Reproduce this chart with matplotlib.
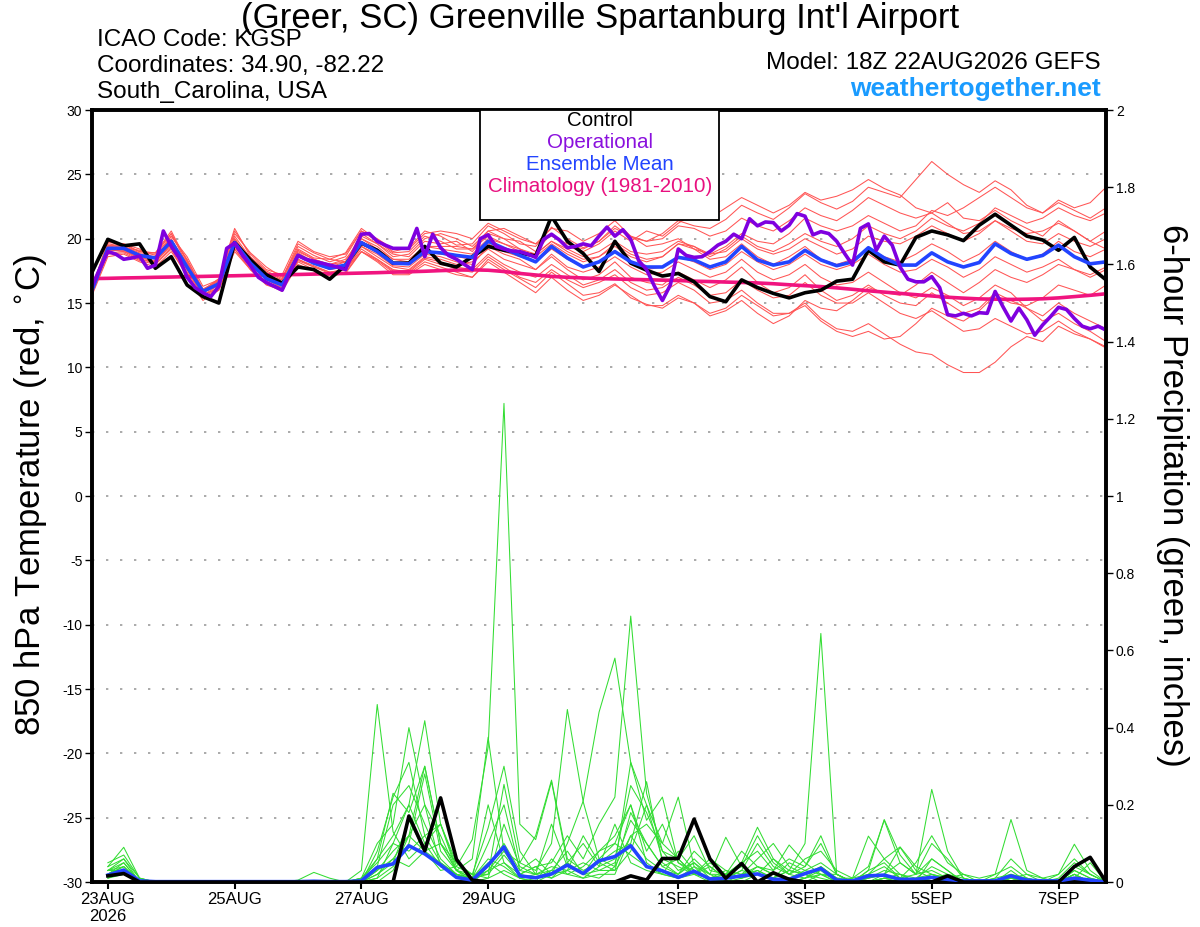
import numpy as np
import pandas as pd
import matplotlib
matplotlib.use('Agg')
import matplotlib.pyplot as plt
from matplotlib.patches import Rectangle

plt.rcParams['font.family'] = ['Liberation Sans', 'DejaVu Sans']

# ---------------- data ----------------
run_start = '2026-08-22 18:00'
times6 = pd.date_range(run_start, periods=65, freq='6h').to_numpy()
times3 = pd.date_range(run_start, periods=129, freq='3h').to_numpy()
ptimes = times6[1:]

tick_dates = pd.to_datetime(['2026-08-23', '2026-08-25', '2026-08-27', '2026-08-29',
                             '2026-09-01', '2026-09-03', '2026-09-05', '2026-09-07']).to_numpy()
tick_labels = ['23AUG\n2026', '25AUG', '27AUG', '29AUG', '1SEP', '3SEP', '5SEP', '7SEP']

control_t = [17.4, 19.95, 19.45, 19.6, 17.7, 18.6, 16.4, 15.5, 15.0, 19.7,
             18.35, 17.2, 16.55, 17.8, 17.6, 16.85, 17.95, 19.65, 19.1, 18.1,
             18.1, 19.4, 18.1, 17.8, 18.6, 19.4, 19.1, 18.9, 18.65, 21.75,
             19.8, 18.85, 17.45, 19.8, 18.1, 17.55, 17.1, 17.3, 16.65, 15.5,
             15.1, 16.8, 16.2, 15.75, 15.4, 15.8, 16.0, 16.7, 16.85, 19.1,
             18.2, 17.95, 20.1, 20.6, 20.3, 19.85, 21.05, 21.9, 21.05, 20.2,
             19.9, 19.1, 20.1, 17.8, 16.8]

mean_t = [16.0, 19.25, 19.25, 18.7, 18.5, 19.8, 17.8, 15.9, 16.5, 19.7,
          18.1, 16.9, 16.4, 18.7, 18.1, 17.7, 17.95, 19.7, 19.0, 18.1,
          18.05, 19.0, 18.9, 18.7, 18.55, 19.8, 19.25, 18.7, 18.2, 19.4,
          18.5, 17.8, 18.2, 19.0, 18.2, 17.8, 17.8, 18.55, 18.35, 17.8,
          18.2, 19.4, 18.35, 17.95, 18.2, 19.1, 18.35, 17.9, 18.2, 19.3,
          18.5, 17.95, 17.95, 18.9, 18.2, 17.8, 18.15, 19.6, 18.85, 18.4,
          18.7, 19.5, 18.6, 18.05, 18.2]

oper_t = [16.3, 17.7, 19.0, 18.8, 18.4, 18.5, 18.65, 17.7, 17.95, 20.6,
          19.4, 18.5, 17.0, 16.2, 15.8, 15.5, 16.3, 19.25, 19.65, 18.7,
          17.9, 17.0, 16.6, 16.3, 16.0, 17.4, 18.7, 18.4, 18.25, 18.1,
          17.95, 17.8, 17.6, 19.0, 20.35, 20.4, 19.8, 19.5, 19.25, 19.25,
          19.25, 20.8, 18.6, 20.35, 19.3, 18.7, 18.4, 18.0, 17.6, 20.0,
          20.3, 19.4, 19.2, 19.05, 19.0, 18.8, 18.55, 19.95, 20.35, 19.9,
          19.3, 19.4, 19.6, 19.45, 20.2, 20.9, 20.2, 20.7, 19.95, 18.3,
          17.6, 16.3, 15.2, 16.4, 19.2, 18.7, 18.55, 18.6, 19.0, 19.5,
          19.8, 20.35, 20.0, 21.55, 21.0, 21.3, 21.25, 20.6, 21.05, 21.95,
          21.75, 20.3, 20.55, 20.4, 19.8, 18.85, 17.95, 20.8, 21.15, 19.1,
          20.2, 19.5, 17.8, 16.85, 16.65, 16.65, 17.05, 16.2, 14.1, 14.0,
          14.2, 14.0, 14.25, 14.2, 15.9, 14.7, 13.6, 14.6, 13.7, 12.5,
          13.3, 13.95, 14.67, 14.5, 13.8, 13.2, 13.0, 13.2, 12.9]

clim_t = [16.9, 16.92, 16.95, 16.97, 17.0, 17.02, 17.05, 17.07, 17.1, 17.12,
          17.15, 17.18, 17.2, 17.22, 17.25, 17.28, 17.3, 17.33, 17.36, 17.4,
          17.43, 17.47, 17.52, 17.56, 17.58, 17.55, 17.45, 17.3, 17.18, 17.07,
          17.0, 16.95, 16.9, 16.87, 16.84, 16.81, 16.78, 16.75, 16.7, 16.67,
          16.63, 16.6, 16.56, 16.5, 16.42, 16.35, 16.28, 16.18, 16.07, 15.95,
          15.85, 15.75, 15.65, 15.55, 15.45, 15.38, 15.32, 15.3, 15.28, 15.3,
          15.33, 15.4, 15.5, 15.6, 15.72]

member_t_01 = [16.2, 19.8, 19.5, 19.0, 18.9, 20.6, 18.2, 16.0, 16.8, 20.8,
               18.6, 17.5, 16.9, 19.6, 18.9, 18.4, 18.9, 20.8, 19.9, 19.0,
               19.3, 20.6, 20.2, 19.5, 19.6, 21.0, 20.4, 19.6, 19.4, 20.9,
               20.0, 19.3, 19.8, 21.0, 20.1, 19.8, 20.4, 21.4, 21.0, 20.8,
               21.5, 22.6, 22.0, 21.5, 22.4, 23.5, 22.8, 22.3, 22.9, 24.0,
               23.6, 23.2, 24.6, 26.0, 25.0, 24.2, 23.6, 24.5, 23.8, 22.6,
               22.0, 23.0, 22.4, 22.8, 24.0]
member_t_02 = [15.6, 18.6, 18.8, 18.2, 17.8, 19.0, 17.2, 15.4, 16.0, 19.2,
               17.6, 16.5, 15.9, 18.0, 17.5, 17.1, 17.3, 19.0, 18.3, 17.4,
               17.3, 18.2, 17.8, 17.4, 17.0, 18.4, 17.6, 16.9, 16.2, 17.4,
               16.5, 15.6, 15.8, 16.5, 15.4, 14.9, 14.6, 15.4, 15.0, 14.2,
               14.6, 15.6, 14.8, 14.0, 14.2, 15.0, 13.8, 13.0, 12.8, 13.4,
               12.6, 11.8, 11.2, 11.0, 10.2, 9.6, 9.6, 10.4, 11.6, 12.4,
               12.0, 13.2, 12.6, 12.2, 11.6]
member_t_03 = [16.4, 19.4, 19.6, 19.2, 18.4, 20.2, 18.6, 16.3, 16.8, 20.4,
               18.9, 17.8, 17.0, 19.2, 18.5, 18.4, 18.2, 20.2, 19.6, 18.8,
               18.6, 19.8, 19.6, 19.8, 19.0, 20.4, 20.0, 19.8, 19.0, 20.4,
               19.4, 19.0, 19.6, 20.6, 19.8, 20.6, 20.2, 21.2, 22.0, 21.6,
               22.4, 23.2, 22.6, 22.0, 22.6, 23.6, 23.0, 23.3, 23.8, 24.6,
               23.9, 23.4, 22.4, 22.0, 22.8, 21.6, 21.4, 22.2, 21.4, 20.8,
               20.2, 21.4, 20.6, 19.8, 20.6]
member_t_04 = [15.8, 19.0, 19.2, 18.4, 18.2, 19.6, 17.6, 15.6, 16.2, 19.4,
               17.8, 16.6, 16.2, 18.4, 17.8, 17.4, 17.6, 19.4, 18.6, 17.8,
               17.6, 18.6, 18.4, 18.0, 18.2, 19.2, 18.4, 18.0, 17.6, 18.6,
               17.6, 16.8, 17.2, 18.2, 17.0, 16.6, 16.4, 17.4, 16.8, 16.2,
               16.8, 17.8, 16.6, 15.8, 16.2, 17.2, 16.0, 15.2, 15.6, 16.4,
               15.6, 15.0, 14.8, 15.8, 15.0, 14.2, 14.6, 15.8, 15.2, 14.6,
               14.0, 15.0, 14.2, 13.6, 13.0]
member_t_05 = [16.1, 19.6, 19.4, 18.9, 18.8, 20.4, 18.0, 15.8, 16.6, 20.0,
               18.3, 17.2, 16.6, 19.0, 18.4, 18.0, 18.4, 20.0, 19.4, 18.4,
               18.4, 19.4, 19.2, 19.0, 18.8, 20.0, 19.6, 19.0, 18.8, 19.8,
               19.2, 18.6, 19.0, 19.8, 19.0, 18.8, 19.0, 19.8, 19.4, 18.6,
               19.2, 20.2, 19.4, 19.0, 19.6, 20.4, 19.8, 19.4, 20.0, 21.0,
               20.4, 20.0, 20.6, 21.6, 21.0, 20.6, 21.2, 22.4, 21.8, 21.2,
               21.6, 22.4, 21.8, 21.4, 22.0]
member_t_06 = [15.9, 19.2, 19.0, 18.6, 18.2, 19.6, 17.4, 15.6, 16.4, 19.6,
               18.0, 16.8, 16.2, 18.6, 18.2, 17.6, 17.8, 19.4, 18.8, 17.9,
               17.8, 18.8, 18.6, 18.2, 18.0, 19.4, 18.8, 18.4, 17.6, 18.8,
               17.8, 17.4, 17.8, 18.6, 17.8, 17.2, 17.4, 18.2, 17.6, 17.0,
               17.4, 18.4, 17.4, 16.8, 17.2, 18.0, 17.0, 16.4, 16.6, 17.4,
               16.6, 15.8, 15.4, 16.2, 15.6, 14.8, 15.4, 16.4, 15.8, 14.6,
               13.6, 14.2, 13.4, 12.8, 12.0]
member_t_07 = [16.0, 19.4, 19.2, 18.8, 18.6, 20.0, 17.8, 15.8, 16.4, 19.8,
               18.2, 17.0, 16.5, 18.9, 18.2, 17.8, 18.2, 20.4, 19.6, 18.6,
               18.8, 20.0, 20.4, 20.0, 19.4, 20.6, 20.8, 20.2, 19.6, 20.8,
               20.6, 19.8, 20.4, 21.4, 20.2, 19.4, 19.6, 20.0, 19.2, 18.4,
               18.6, 19.6, 18.6, 18.0, 18.6, 19.4, 18.4, 18.0, 18.4, 19.2,
               18.6, 18.2, 18.8, 19.6, 19.0, 18.2, 18.8, 19.8, 19.0, 18.4,
               18.8, 19.8, 19.0, 18.6, 19.2]
member_t_08 = [15.7, 18.8, 18.9, 18.3, 18.0, 19.2, 17.0, 15.2, 16.0, 19.0,
               17.6, 16.4, 16.0, 18.2, 17.6, 17.2, 17.4, 19.0, 18.2, 17.2,
               17.2, 18.0, 17.6, 17.2, 17.0, 18.2, 17.4, 16.6, 15.8, 17.0,
               16.0, 15.2, 15.6, 16.4, 15.6, 14.8, 14.8, 15.6, 15.0, 14.0,
               14.4, 15.2, 14.2, 13.4, 14.0, 15.2, 14.6, 14.4, 15.2, 16.2,
               15.8, 15.6, 16.4, 17.4, 16.6, 15.8, 16.6, 17.6, 17.0, 16.6,
               17.2, 18.0, 17.6, 17.0, 17.6]
member_t_09 = [16.3, 19.5, 19.3, 19.1, 18.7, 20.2, 18.4, 16.1, 16.7, 20.2,
               18.5, 17.4, 16.8, 19.4, 18.7, 18.2, 18.6, 20.6, 19.8, 18.9,
               19.0, 20.2, 19.8, 19.2, 19.2, 20.6, 20.0, 19.2, 18.6, 19.6,
               18.8, 18.2, 18.6, 19.4, 18.6, 18.2, 18.6, 19.6, 19.2, 18.8,
               19.4, 20.4, 19.8, 19.6, 20.4, 21.6, 21.0, 20.6, 21.0, 21.8,
               21.2, 20.6, 21.0, 22.2, 21.8, 22.4, 23.2, 24.0, 23.2, 22.4,
               22.0, 22.8, 22.2, 21.6, 22.4]
member_t_10 = [15.8, 19.1, 19.1, 18.5, 18.3, 19.4, 17.6, 15.6, 16.2, 19.4,
               17.8, 16.6, 16.0, 18.4, 17.9, 17.4, 17.6, 19.2, 18.4, 17.6,
               17.4, 18.4, 18.0, 17.8, 17.6, 18.8, 18.0, 17.4, 17.0, 18.0,
               17.2, 16.4, 16.8, 17.6, 16.6, 16.0, 16.2, 17.0, 16.4, 15.6,
               15.8, 16.8, 16.0, 15.4, 15.6, 16.6, 15.6, 15.0, 15.0, 15.8,
               15.0, 14.2, 13.8, 14.4, 13.6, 12.8, 13.0, 13.8, 13.2, 12.6,
               12.8, 13.6, 12.8, 12.2, 11.5]
member_t_11 = [16.1, 19.3, 19.4, 18.8, 18.5, 19.9, 17.9, 15.9, 16.5, 19.6,
               18.0, 16.9, 16.4, 18.8, 18.2, 17.6, 18.0, 19.8, 19.0, 18.0,
               18.0, 19.0, 18.8, 18.6, 18.4, 19.6, 19.0, 18.6, 18.2, 19.2,
               18.4, 17.8, 18.2, 19.0, 18.2, 17.6, 17.8, 18.6, 18.2, 17.6,
               18.0, 19.0, 18.2, 17.6, 18.0, 18.8, 18.0, 17.6, 18.0, 18.8,
               18.0, 17.4, 17.6, 18.4, 17.8, 17.0, 17.6, 18.6, 18.0, 17.4,
               17.8, 18.4, 17.6, 17.2, 17.8]
member_t_12 = [16.2, 19.7, 19.6, 19.0, 18.9, 20.4, 18.3, 16.0, 16.9, 20.6,
               18.8, 17.6, 17.2, 19.8, 19.0, 18.6, 18.8, 20.6, 20.0, 19.2,
               19.2, 20.4, 20.6, 20.4, 20.0, 21.2, 20.6, 20.0, 19.6, 20.2,
               19.6, 19.2, 19.8, 20.8, 20.2, 19.8, 20.0, 21.0, 20.8, 20.2,
               20.6, 21.6, 21.0, 20.6, 21.4, 22.4, 21.8, 21.4, 22.2, 23.2,
               22.6, 22.0, 21.6, 22.0, 21.2, 20.4, 20.6, 21.4, 20.6, 19.8,
               19.6, 20.4, 19.8, 19.4, 20.0]
member_t_13 = [15.9, 18.9, 19.0, 18.4, 18.1, 19.3, 17.3, 15.4, 16.2, 19.2,
               17.6, 16.5, 16.1, 18.3, 17.8, 17.3, 17.6, 19.0, 18.4, 17.5,
               17.5, 18.5, 18.2, 17.6, 17.4, 18.6, 17.8, 17.0, 16.6, 17.6,
               16.8, 16.2, 16.6, 17.2, 16.2, 15.6, 15.8, 16.6, 16.0, 15.0,
               15.2, 16.0, 15.0, 14.2, 14.2, 14.8, 13.6, 12.8, 12.4, 12.8,
               12.2, 12.4, 13.4, 14.6, 14.0, 13.6, 14.4, 15.6, 15.0, 14.8,
               15.4, 16.4, 16.0, 15.6, 16.4]
member_t_14 = [16.0, 19.5, 19.1, 18.7, 18.6, 19.9, 18.1, 16.0, 16.7, 20.0,
               18.4, 17.1, 16.8, 19.1, 18.4, 18.0, 18.2, 20.0, 19.2, 18.4,
               18.2, 19.4, 19.4, 19.4, 19.2, 20.2, 19.6, 19.2, 18.8, 19.8,
               19.0, 18.4, 18.6, 19.6, 18.8, 18.4, 18.6, 19.6, 19.4, 18.8,
               19.0, 20.0, 19.2, 18.8, 19.2, 20.0, 19.4, 18.8, 19.2, 20.2,
               19.8, 19.6, 20.2, 21.0, 20.4, 19.8, 20.4, 21.4, 20.8, 20.4,
               20.6, 21.2, 20.6, 19.8, 19.2]
members_t = [member_t_01, member_t_02, member_t_03, member_t_04, member_t_05,
             member_t_06, member_t_07, member_t_08, member_t_09, member_t_10,
             member_t_11, member_t_12, member_t_13, member_t_14]

# 6-hour precipitation (inches), valid 00Z 23AUG ... 18Z 7SEP
control_p = [0.016, 0.022, 0, 0, 0, 0, 0, 0,
             0, 0, 0, 0, 0, 0, 0, 0,
             0, 0, 0, 0.171, 0.081, 0.218, 0.059, 0.005,
             0, 0, 0, 0, 0, 0, 0, 0,
             0, 0.016, 0.005, 0.061, 0.061, 0.163, 0.060, 0.01,
             0.048, 0, 0.024, 0.007, 0, 0, 0, 0,
             0, 0, 0, 0, 0, 0.016, 0, 0,
             0, 0, 0, 0, 0, 0.04, 0.064, 0]
mean_p = [0.018, 0.031, 0.003, 0.001, 0.001, 0.001, 0.001, 0.001,
          0.001, 0.001, 0.001, 0.001, 0.001, 0.002, 0.001, 0.001,
          0.003, 0.038, 0.047, 0.094, 0.073, 0.044, 0.012, 0.005,
          0.044, 0.091, 0.016, 0.011, 0.021, 0.044, 0.022, 0.055,
          0.066, 0.094, 0.04, 0.029, 0.012, 0.028, 0.008, 0.01,
          0.016, 0.021, 0.007, 0.007, 0.022, 0.035, 0.005, 0.003,
          0.016, 0.018, 0.007, 0.007, 0.012, 0.007, 0.003, 0.003,
          0.003, 0.016, 0.005, 0.003, 0.003, 0.01, 0.005, 0.0]

member_p_01 = [0.02, 0.04, 0, 0, 0, 0, 0, 0,
               0, 0, 0, 0, 0, 0, 0, 0,
               0, 0.02, 0.06, 0.12, 0.08, 0.03, 0.04, 0.11,
               0.35, 1.24, 0.15, 0.11, 0.26, 0.05, 0.02, 0.06,
               0.1, 0.2, 0.05, 0.02, 0.01, 0.04, 0, 0,
               0, 0.02, 0.01, 0, 0.01, 0.03, 0, 0,
               0, 0.01, 0, 0, 0.02, 0, 0, 0,
               0, 0, 0.01, 0, 0, 0.02, 0, 0]
member_p_02 = [0.03, 0.05, 0, 0, 0, 0, 0, 0,
               0, 0, 0, 0, 0, 0, 0, 0,
               0.03, 0.46, 0.13, 0.06, 0.1, 0.04, 0.02, 0.01,
               0.05, 0.02, 0, 0.01, 0.03, 0.08, 0.02, 0.01,
               0.04, 0.12, 0.06, 0.03, 0.02, 0.06, 0.02, 0,
               0.01, 0.04, 0.02, 0.01, 0, 0.02, 0, 0,
               0, 0.01, 0, 0, 0.01, 0, 0, 0,
               0, 0, 0, 0, 0, 0.01, 0, 0]
member_p_03 = [0.01, 0.03, 0, 0, 0, 0, 0, 0,
               0, 0, 0, 0, 0, 0, 0, 0,
               0.01, 0.1, 0.15, 0.40, 0.2, 0.12, 0.03, 0.01,
               0.02, 0.07, 0.02, 0.04, 0.01, 0.03, 0.12, 0.05,
               0.03, 0.18, 0.1, 0.04, 0.06, 0.02, 0.05, 0.02,
               0.04, 0.12, 0.05, 0.02, 0.01, 0.04, 0.01, 0,
               0.02, 0.06, 0.02, 0, 0.01, 0, 0, 0,
               0, 0.01, 0, 0, 0, 0.02, 0, 0]
member_p_04 = [0.04, 0.06, 0.01, 0, 0, 0, 0, 0,
               0, 0, 0, 0, 0, 0, 0, 0,
               0, 0.06, 0.12, 0.2, 0.418, 0.15, 0.04, 0.02,
               0.14, 0.3, 0.08, 0.02, 0.01, 0.05, 0.1, 0.04,
               0.06, 0.25, 0.18, 0.08, 0.03, 0.05, 0.01, 0.02,
               0.05, 0.08, 0.03, 0.06, 0.04, 0.12, 0.02, 0,
               0.03, 0.05, 0.01, 0.02, 0.06, 0.03, 0, 0,
               0.01, 0.02, 0, 0, 0, 0.03, 0.01, 0]
member_p_05 = [0.02, 0.02, 0, 0, 0, 0, 0, 0,
               0, 0, 0, 0, 0, 0, 0, 0,
               0, 0.08, 0.22, 0.31, 0.12, 0.15, 0.05, 0.01,
               0.2, 0.05, 0.01, 0, 0.06, 0.02, 0.04, 0.08,
               0.1, 0.07, 0.04, 0.02, 0.08, 0.03, 0.01, 0,
               0.02, 0.06, 0.1, 0.04, 0.02, 0, 0, 0.01,
               0.04, 0.16, 0.05, 0.02, 0.03, 0.01, 0, 0,
               0, 0.01, 0, 0, 0, 0.02, 0, 0]
member_p_06 = [0.03, 0.04, 0, 0, 0, 0, 0, 0,
               0, 0, 0, 0, 0, 0, 0, 0,
               0, 0.01, 0.04, 0.1, 0.28, 0.08, 0.03, 0,
               0.04, 0.1, 0.03, 0.06, 0.02, 0.1, 0.21, 0.44,
               0.58, 0.31, 0.2, 0.1, 0.06, 0.02, 0.04, 0.01,
               0.03, 0.1, 0.04, 0.02, 0.06, 0.08, 0.03, 0.01,
               0.02, 0.04, 0.01, 0.05, 0.12, 0.05, 0.02, 0,
               0.01, 0.06, 0.02, 0, 0, 0.04, 0.02, 0]
member_p_07 = [0.01, 0.02, 0, 0, 0, 0, 0, 0,
               0, 0, 0, 0, 0, 0, 0, 0,
               0, 0.04, 0.2, 0.25, 0.15, 0.06, 0.02, 0.01,
               0.03, 0.05, 0.02, 0.04, 0.05, 0.12, 0.06, 0.15,
               0.22, 0.689, 0.23, 0.08, 0.06, 0.12, 0.03, 0.02,
               0.01, 0.03, 0.01, 0.05, 0.03, 0.02, 0.02, 0,
               0, 0.02, 0.09, 0.03, 0.01, 0, 0, 0,
               0, 0.02, 0, 0, 0, 0, 0, 0]
member_p_08 = [0.02, 0.05, 0, 0, 0, 0, 0, 0,
               0, 0, 0, 0, 0, 0, 0, 0,
               0, 0.02, 0.05, 0.16, 0.08, 0.1, 0.03, 0.06,
               0.375, 0.08, 0.05, 0.12, 0.264, 0.06, 0.03, 0.05,
               0.08, 0.1, 0.26, 0.05, 0.02, 0.08, 0.04, 0.01,
               0.03, 0.02, 0.01, 0.03, 0.02, 0.01, 0, 0,
               0.01, 0.03, 0.02, 0.01, 0.04, 0.02, 0.01, 0,
               0, 0.01, 0.02, 0.01, 0, 0.03, 0.01, 0]
member_p_09 = [0.03, 0.03, 0, 0, 0, 0, 0, 0,
               0, 0, 0, 0, 0, 0, 0, 0,
               0, 0.03, 0.08, 0.12, 0.3, 0.1, 0.05, 0.02,
               0.02, 0.253, 0.05, 0.03, 0.1, 0.447, 0.208, 0.06,
               0.04, 0.31, 0.16, 0.22, 0.05, 0.03, 0.01, 0.02,
               0.05, 0.142, 0.06, 0.02, 0.04, 0.1, 0.02, 0,
               0.03, 0.162, 0.07, 0.02, 0.24, 0.08, 0.01, 0,
               0.02, 0.04, 0.01, 0, 0.01, 0.05, 0.02, 0]
member_p_10 = [0.04, 0.09, 0.01, 0, 0, 0, 0, 0,
               0, 0, 0, 0, 0, 0, 0, 0,
               0, 0, 0.03, 0.12, 0.2, 0.04, 0.02, 0,
               0.03, 0.08, 0.02, 0.01, 0.02, 0.05, 0.02, 0.03,
               0.05, 0.16, 0.1, 0.04, 0.02, 0.05, 0.02, 0.116,
               0.04, 0.02, 0.01, 0.03, 0.1, 0.644, 0.02, 0,
               0, 0.01, 0.02, 0, 0.01, 0.02, 0, 0,
               0, 0.01, 0, 0, 0, 0.01, 0, 0]
member_p_11 = [0.02, 0.04, 0, 0, 0, 0, 0, 0,
               0, 0, 0, 0, 0, 0, 0, 0,
               0, 0.01, 0.1, 0.2, 0.1, 0.15, 0.03, 0.01,
               0.1, 0.2, 0.03, 0.02, 0.04, 0.03, 0.05, 0.03,
               0.03, 0.08, 0.2, 0.06, 0.04, 0.02, 0.06, 0.03,
               0.02, 0.04, 0.03, 0.096, 0.05, 0.02, 0.01, 0.01,
               0.119, 0.06, 0.091, 0.04, 0.02, 0.01, 0.02, 0.01,
               0.02, 0.162, 0.03, 0.01, 0.02, 0.098, 0.03, 0]
member_p_12 = [0.02, 0.03, 0, 0, 0, 0, 0, 0,
               0, 0, 0, 0, 0, 0, 0, 0,
               0.01, 0.05, 0.1, 0.08, 0.12, 0.05, 0.02, 0,
               0.01, 0.15, 0.04, 0.02, 0.03, 0.02, 0.01, 0.02,
               0.02, 0.12, 0.15, 0.1, 0.22, 0.04, 0.02, 0.02,
               0.08, 0.04, 0.02, 0.01, 0.03, 0.05, 0.02, 0,
               0.01, 0.02, 0.05, 0.02, 0.1, 0.06, 0.01, 0,
               0, 0.02, 0.01, 0, 0.02, 0.06, 0.02, 0]
member_p_13 = [0.03, 0.06, 0, 0, 0, 0, 0, 0,
               0, 0, 0, 0, 0.005, 0.025, 0.01, 0,
               0, 0.03, 0.06, 0.04, 0.08, 0.05, 0.02, 0.01,
               0.06, 0.04, 0.01, 0.02, 0.15, 0.04, 0.02, 0.08,
               0.12, 0.2, 0.08, 0.15, 0.05, 0.02, 0.01, 0.03,
               0.01, 0.02, 0.06, 0.03, 0.02, 0.04, 0.01, 0,
               0.01, 0.02, 0, 0.01, 0.02, 0.01, 0, 0,
               0, 0.03, 0, 0, 0, 0.01, 0.05, 0]
member_p_14 = [0.05, 0.07, 0.01, 0, 0, 0, 0, 0,
               0, 0, 0, 0, 0, 0, 0, 0,
               0.01, 0.06, 0.23, 0.18, 0.3, 0.1, 0.03, 0.02,
               0.01, 0.03, 0.01, 0.0, 0.02, 0.03, 0.01, 0.04,
               0.15, 0.05, 0.03, 0.02, 0.01, 0.02, 0.0, 0.01,
               0.02, 0.03, 0.01, 0, 0.01, 0.02, 0, 0,
               0, 0.01, 0.01, 0, 0.06, 0.03, 0, 0,
               0, 0.01, 0, 0, 0, 0.02, 0, 0]
members_p = [member_p_01, member_p_02, member_p_03, member_p_04, member_p_05,
             member_p_06, member_p_07, member_p_08, member_p_09, member_p_10,
             member_p_11, member_p_12, member_p_13, member_p_14]

left_ticks = list(range(-30, 31, 5))
right_ticks = [0, 0.2, 0.4, 0.6, 0.8, 1.0, 1.2, 1.4, 1.6, 1.8, 2.0]

legend_entries = ['Control', 'Operational', 'Ensemble Mean', 'Climatology (1981-2010)']

# ---------------- styles ----------------
C_RED = '#ff5555'
C_GREEN = '#33dd33'
C_BLACK = '#000000'
C_PURPLE = '#7f00df'
C_BLUE = '#2244ff'
C_PINK = '#f0147f'
legend_colors = [C_BLACK, '#8a10dd', '#2244ff', '#e8107f']

fig = plt.figure(figsize=(12, 9.27), dpi=100)
ax = fig.add_axes([0.0767, 0.0485, 0.8450, 0.8328])
ax2 = ax.twinx()

# temperature
for m in members_t:
    ax.plot(times6, m, color=C_RED, lw=0.75, zorder=2)
ax.plot(times6, clim_t, color=C_PINK, lw=2.6, zorder=3)
ax.plot(times6, control_t, color=C_BLACK, lw=2.6, zorder=4)
ax.plot(times6, mean_t, color=C_BLUE, lw=2.6, zorder=5)
ax.plot(times3, oper_t, color=C_PURPLE, lw=2.6, zorder=6)

ax.set_ylim(-30, 30)
ax.set_yticks(left_ticks)
ax.set_yticklabels([str(v) for v in left_ticks])
ax.set_xlim(times6[0], times6[-1])
ax.set_xticks(tick_dates)
ax.set_xticklabels(tick_labels)
for v in left_ticks[1:-1]:
    ax.axhline(v, color='#aaaaaa', lw=1.4, ls=(0, (1.2, 6.0)), zorder=1)

# precipitation
for m in members_p:
    ax2.plot(ptimes, m, color=C_GREEN, lw=0.75, zorder=2)
ax2.plot(ptimes, mean_p, color=C_BLUE, lw=2.6, zorder=3)
ax2.plot(ptimes, control_p, color=C_BLACK, lw=2.6, zorder=4)
ax2.set_ylim(0, 2)
ax2.set_yticks(right_ticks)
ax2.set_yticklabels([f'{v:g}' for v in right_ticks])
ax2.set_xlim(times6[0], times6[-1])

for a in (ax, ax2):
    for s in a.spines.values():
        s.set_linewidth(2.6)
ax.tick_params(axis='y', direction='out', length=5, width=1, labelsize=10, pad=2)
ax2.tick_params(axis='y', direction='out', length=5, width=1, labelsize=10, pad=2)
ax.tick_params(axis='x', direction='out', length=5, width=1.5, labelsize=12, pad=2)

# axis titles
fig.text(0.0258, 0.466, '850 hPa Temperature (red, $^{\\circ}$C)', fontsize=25,
         rotation=90, ha='center', va='center')
fig.text(0.9767, 0.466, '6-hour Precipitation (green, inches)', fontsize=25,
         rotation=270, ha='center', va='center')

# legend box
ax2.add_patch(Rectangle((0.3826, 0.8575), 0.2357, 0.1425, transform=ax2.transAxes,
                        facecolor='white', edgecolor='black', lw=1.3, zorder=20))
for k, (lab, col) in enumerate(zip(legend_entries, legend_colors)):
    ax2.text(0.501, 0.9858 - k * 0.0281, lab, color=col, fontsize=14.8,
             ha='center', va='center', transform=ax2.transAxes, zorder=21)

# header texts
fig.text(0.5, 0.980, "(Greer, SC) Greenville Spartanburg Int'l Airport",
         fontsize=25, ha='center', va='center')
fig.text(0.081, 0.957, 'ICAO Code: KGSP', fontsize=17.5, ha='left', va='center')
fig.text(0.081, 0.929, 'Coordinates: 34.90, -82.22', fontsize=17.5, ha='left', va='center')
fig.text(0.081, 0.901, 'South_Carolina, USA', fontsize=17.5, ha='left', va='center')
fig.text(0.9175, 0.932, 'Model: 18Z 22AUG2026 GEFS', fontsize=17.5, ha='right', va='center')
fig.text(0.9175, 0.904, 'weathertogether.net', fontsize=19, fontweight='bold',
         color='#1a9bff', ha='right', va='center')

fig.savefig('out.png', dpi=100)
